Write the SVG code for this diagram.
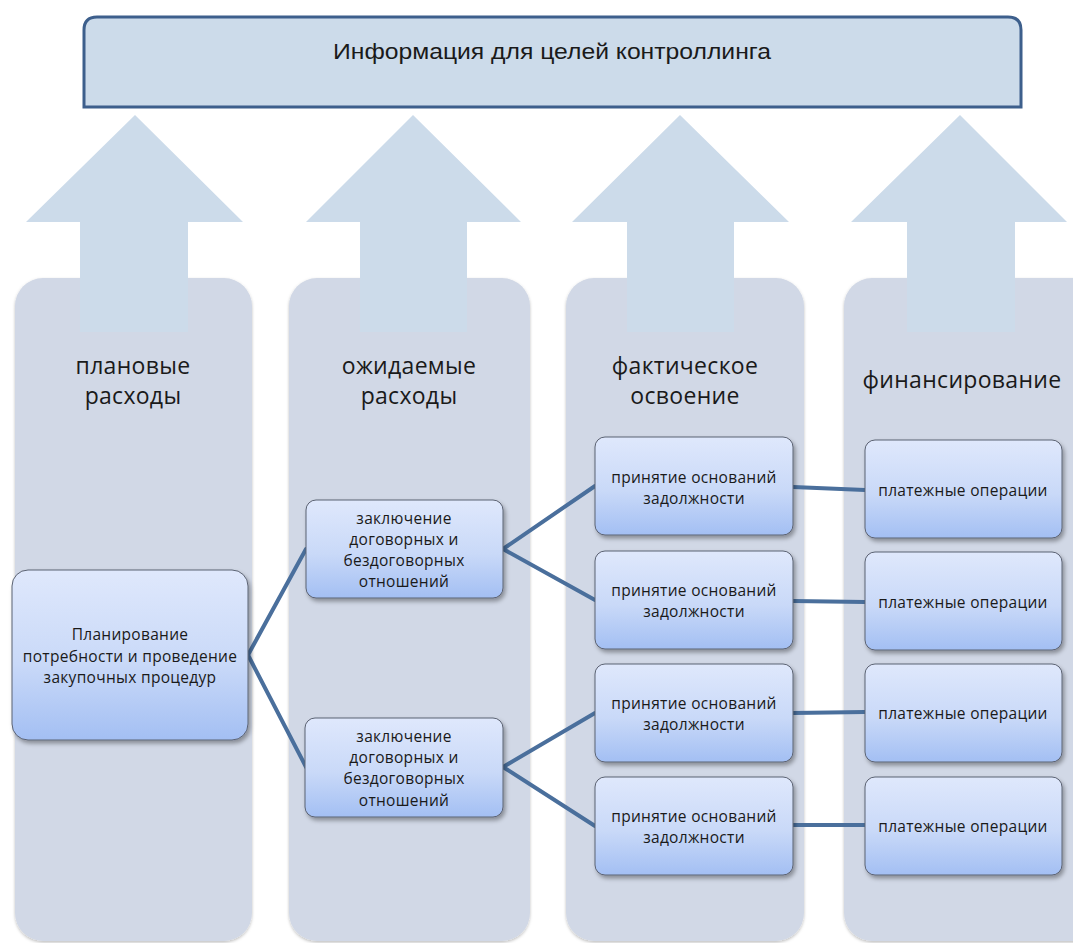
<svg xmlns="http://www.w3.org/2000/svg" width="1073" height="943" viewBox="0 0 1073 943">
<defs>
<linearGradient id="ng" x1="0" y1="0" x2="0" y2="1">
<stop offset="0" stop-color="#dfe8fc"/>
<stop offset="0.55" stop-color="#c9d9f8"/>
<stop offset="1" stop-color="#a3bff3"/>
</linearGradient>
<filter id="sh" x="-10%" y="-10%" width="125%" height="130%">
<feDropShadow dx="2" dy="3" stdDeviation="2" flood-color="#000" flood-opacity="0.35"/>
</filter>
<filter id="csh" x="-5%" y="-5%" width="110%" height="110%">
<feDropShadow dx="0" dy="1.5" stdDeviation="1.5" flood-color="#000" flood-opacity="0.25"/>
</filter>
<style>
.col{fill:#d1d8e6;filter:url(#csh)}
.arr{fill:#ccdbea}
.node{fill:url(#ng);stroke:#5b6272;stroke-width:1;filter:url(#sh)}
.t{font-family:"Open Sans","Noto Sans","DejaVu Sans",sans-serif;fill:#1a1a1a;text-anchor:middle}
.nt{font-size:15.5px;letter-spacing:0.3px}
.ct{font-size:23px;letter-spacing:0.3px}
.edge{fill:none;stroke:#4a6f9c;stroke-width:4;stroke-linecap:round}
</style>
</defs>
<rect width="1073" height="943" fill="#ffffff"/>

<g id="top">
<path d="M84,107 V30 Q84,17 97,17 H1008 Q1021,17 1021,30 V107 Z" fill="#ccdbea" stroke="#3d5f8c" stroke-width="3"/>
<text x="552" y="59" font-family="'Liberation Sans',Arial,sans-serif" font-size="22" fill="#1a1a1a" text-anchor="middle" textLength="438" lengthAdjust="spacingAndGlyphs">Информация для целей контроллинга</text>
</g>

<g id="columns">
<rect class="col" x="15" y="278" width="237" height="663" rx="28"/>
<rect class="col" x="289" y="278" width="241" height="663" rx="28"/>
<rect class="col" x="566" y="278" width="238" height="663" rx="28"/>
<rect class="col" x="844" y="278" width="260" height="663" rx="28"/>
</g>

<g id="arrows">
<polygon class="arr" points="135,115 243,222 188,222 188,332 80,332 80,222 26,222"/>
<polygon class="arr" points="413,115 521,222 467,222 467,332 360,332 360,222 306,222"/>
<polygon class="arr" points="680,115 789,222 734,222 734,332 627,332 627,222 572,222"/>
<polygon class="arr" points="960,115 1067,222 1015,222 1015,332 907,332 907,222 851,222"/>
</g>

<g id="col-titles">
<text class="t ct" x="133" y="374">плановые</text>
<text class="t ct" x="133" y="404">расходы</text>
<text class="t ct" x="409" y="374">ожидаемые</text>
<text class="t ct" x="409" y="404">расходы</text>
<text class="t ct" x="685" y="374">фактическое</text>
<text class="t ct" x="685" y="404">освоение</text>
<text class="t ct" x="962" y="388">финансирование</text>
</g>

<g id="connectors">
<path class="edge" d="M248,655 L306,549"/>
<path class="edge" d="M248,655 L306,767"/>
<path class="edge" d="M503,549 L595,486"/>
<path class="edge" d="M503,549 L595,600"/>
<path class="edge" d="M503,767 L595,713"/>
<path class="edge" d="M503,767 L595,826"/>
<path class="edge" d="M793,487 L865,490"/>
<path class="edge" d="M793,601 L865,602"/>
<path class="edge" d="M793,713 L865,712"/>
<path class="edge" d="M793,825 L865,825"/>
</g>

<g id="n-plan">
<rect class="node" x="12" y="570" width="236" height="170" rx="16"/>
<text class="t nt" x="130" y="640">Планирование</text>
<text class="t nt" x="130" y="662">потребности и проведение</text>
<text class="t nt" x="130" y="683">закупочных процедур</text>
</g>

<g id="n-contract1">
<rect class="node" x="306" y="500" width="197" height="98" rx="10"/>
<text class="t nt" x="404" y="524">заключение</text>
<text class="t nt" x="404" y="545">договорных и</text>
<text class="t nt" x="404" y="566">бездоговорных</text>
<text class="t nt" x="404" y="587">отношений</text>
</g>

<g id="n-contract2">
<rect class="node" x="305" y="718" width="198" height="99" rx="10"/>
<text class="t nt" x="404" y="742">заключение</text>
<text class="t nt" x="404" y="763">договорных и</text>
<text class="t nt" x="404" y="784">бездоговорных</text>
<text class="t nt" x="404" y="806">отношений</text>
</g>

<g id="n-debt1">
<rect class="node" x="595" y="437" width="198" height="98" rx="10"/>
<text class="t nt" x="694" y="483">принятие оснований</text>
<text class="t nt" x="694" y="504">задолжности</text>
</g>
<g id="n-debt2">
<rect class="node" x="595" y="551" width="198" height="98" rx="10"/>
<text class="t nt" x="694" y="596">принятие оснований</text>
<text class="t nt" x="694" y="617">задолжности</text>
</g>
<g id="n-debt3">
<rect class="node" x="595" y="664" width="198" height="98" rx="10"/>
<text class="t nt" x="694" y="709">принятие оснований</text>
<text class="t nt" x="694" y="730">задолжности</text>
</g>
<g id="n-debt4">
<rect class="node" x="595" y="777" width="198" height="98" rx="10"/>
<text class="t nt" x="694" y="822">принятие оснований</text>
<text class="t nt" x="694" y="843">задолжности</text>
</g>

<g id="n-pay1">
<rect class="node" x="865" y="440" width="197" height="98" rx="10"/>
<text class="t nt" x="963" y="496">платежные операции</text>
</g>
<g id="n-pay2">
<rect class="node" x="865" y="552" width="197" height="98" rx="10"/>
<text class="t nt" x="963" y="608">платежные операции</text>
</g>
<g id="n-pay3">
<rect class="node" x="865" y="664" width="197" height="98" rx="10"/>
<text class="t nt" x="963" y="719">платежные операции</text>
</g>
<g id="n-pay4">
<rect class="node" x="865" y="777" width="197" height="98" rx="10"/>
<text class="t nt" x="963" y="832">платежные операции</text>
</g>
</svg>
